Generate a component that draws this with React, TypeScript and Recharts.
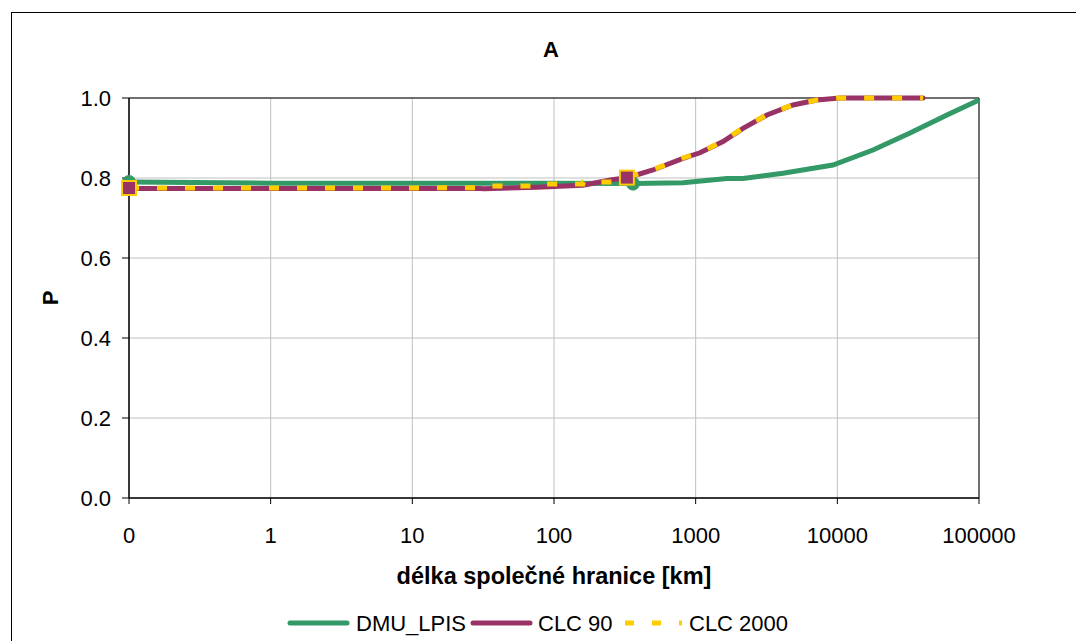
import {
  CartesianGrid,
  Line,
  LineChart,
  ReferenceArea,
  XAxis,
  YAxis,
} from "recharts";

// délka společné hranice [km] (log axis) and P for each series
const dmuLength = [0.1, 1, 10, 100, 361, 814, 1663, 2158, 4131, 9310, 17860, 32580, 59400, 100000];
const dmuP = [0.79, 0.787, 0.787, 0.787, 0.786, 0.788, 0.799, 0.799, 0.812, 0.8325, 0.87, 0.9125, 0.9575, 0.995];

const clc90Length = [0.1, 1, 10, 30, 32, 76, 160, 250, 327, 361, 500, 814, 1072, 1560, 2158, 3185, 4864, 7180, 10440, 40270];
const clc90P = [0.774, 0.774, 0.774, 0.774, 0.773, 0.777, 0.782, 0.795, 0.801, 0.805, 0.82, 0.849, 0.863, 0.891, 0.924, 0.9575, 0.9825, 0.995, 1.0, 1.0];

const clc2000Length = [0.1, 1, 10, 30, 31, 76, 77, 160, 161, 260, 327, 361, 500, 814, 1072, 1560, 2158, 3185, 4864, 7180, 10440, 40270];
const clc2000P = [0.775, 0.775, 0.775, 0.776, 0.78, 0.78, 0.785, 0.785, 0.79, 0.79, 0.801, 0.806, 0.821, 0.85, 0.864, 0.892, 0.925, 0.958, 0.983, 0.995, 1.0, 1.0];

// points that carry a marker
const dmuMarkers = [0.1, 361];
const clcMarkers = [0.1, 327];

const xTicks = [0.1, 1, 10, 100, 1000, 10000, 100000];
const yTicks = [0, 0.2, 0.4, 0.6, 0.8, 1.0];

const toRows = (xs: number[], ys: number[]) => xs.map((x, i) => ({ x, p: ys[i] }));

const dmuData = toRows(dmuLength, dmuP);
const clc90Data = toRows(clc90Length, clc90P);
const clc2000Data = toRows(clc2000Length, clc2000P);

const colors = {
  green: "#339966",
  purple: "#993366",
  yellow: "#FFCC00",
  grid: "#c0c0c0",
  ink: "#000000",
};

const font = "'Liberation Sans', Arial, sans-serif";

const CircleDot = (props: any) => {
  const { cx, cy, payload, index } = props;
  if (!dmuMarkers.includes(payload.x)) return <g key={`c${index}`} />;
  return <circle key={`c${index}`} cx={cx} cy={cy} r={6.5} fill={colors.green} stroke={colors.green} />;
};

const SquareDot = (props: any) => {
  const { cx, cy, payload, index } = props;
  if (!clcMarkers.includes(payload.x)) return <g key={`s${index}`} />;
  return (
    <rect
      key={`s${index}`}
      x={cx - 7}
      y={cy - 7}
      width={14}
      height={14}
      fill={colors.purple}
      stroke={colors.yellow}
      strokeWidth={2}
    />
  );
};

const legendItems = [
  { name: "DMU_LPIS", color: colors.green, dash: undefined, lineX: 290, textX: 356 },
  { name: "CLC 90", color: colors.purple, dash: undefined, lineX: 473, textX: 538 },
  { name: "CLC 2000", color: colors.yellow, dash: "9 18", lineX: 625, textX: 689 },
];

export default function App() {
  return (
    <div
      style={{
        position: "absolute",
        left: 0,
        top: 0,
        width: 1076,
        height: 641,
        overflow: "hidden",
        background: "#fff",
        fontFamily: font,
      }}
    >
      <div
        style={{
          position: "absolute",
          left: 11,
          top: 12,
          width: 1200,
          height: 800,
          borderLeft: "1px solid #000",
          borderTop: "1px solid #000",
        }}
      />
      <div
        style={{
          position: "absolute",
          left: 551,
          top: 39,
          transform: "translateX(-50%)",
          fontSize: 22,
          lineHeight: "22px",
          fontWeight: "bold",
        }}
      >
        A
      </div>
      <div
        style={{
          position: "absolute",
          left: 51,
          top: 298,
          transform: "translate(-50%, -50%) rotate(-90deg)",
          fontSize: 22,
          lineHeight: "22px",
          fontWeight: "bold",
        }}
      >
        P
      </div>

      <div style={{ position: "absolute", left: 0, top: 0 }}>
        <LineChart
          width={1076}
          height={641}
          margin={{ top: 98, right: 97, bottom: 0, left: 0 }}
        >
          <CartesianGrid stroke={colors.grid} strokeWidth={1} />
          <XAxis
            type="number"
            dataKey="x"
            scale="log"
            domain={[0.1, 100000]}
            ticks={xTicks}
            tickFormatter={(v) => (Number(v) < 1 ? "0" : String(v))}
            height={143}
            stroke={colors.ink}
            tickSize={6}
            tickMargin={23}
            tick={{ fill: colors.ink, fontSize: 22, fontFamily: font }}
            label={{
              value: "délka společné hranice [km]",
              position: "insideBottom",
              offset: 57,
              fill: colors.ink,
              fontSize: 23.5,
              fontWeight: "bold",
              fontFamily: font,
            }}
          />
          <YAxis
            type="number"
            domain={[0, 1]}
            ticks={yTicks}
            tickFormatter={(v) => Number(v).toFixed(1)}
            width={129}
            stroke={colors.ink}
            tickSize={7}
            tickMargin={11}
            tick={{ fill: colors.ink, fontSize: 22, fontFamily: font }}
          />
          <ReferenceArea
            x1={0.1}
            x2={100000}
            y1={0}
            y2={1}
            fill="none"
            fillOpacity={0}
            stroke={colors.ink}
            strokeWidth={1}
          />
          <Line
            data={dmuData}
            dataKey="p"
            name="DMU_LPIS"
            type="linear"
            stroke={colors.green}
            strokeWidth={5}
            dot={CircleDot}
            activeDot={false}
            isAnimationActive={false}
          />
          <Line
            data={clc90Data}
            dataKey="p"
            name="CLC 90"
            type="linear"
            stroke={colors.purple}
            strokeWidth={5}
            strokeLinecap="round"
            dot={false}
            activeDot={false}
            isAnimationActive={false}
          />
          <Line
            data={clc2000Data}
            dataKey="p"
            name="CLC 2000"
            type="linear"
            stroke={colors.yellow}
            strokeWidth={5}
            strokeDasharray="10 18"
            dot={SquareDot}
            activeDot={false}
            isAnimationActive={false}
          />
        </LineChart>
      </div>

      {legendItems.map((item) => (
        <div key={item.name}>
          <svg
            style={{ position: "absolute", left: item.lineX - 3, top: 617 }}
            width={66}
            height={12}
          >
            <line
              x1={3}
              y1={6}
              x2={60}
              y2={6}
              stroke={item.color}
              strokeWidth={5}
              strokeLinecap={item.dash ? "butt" : "round"}
              strokeDasharray={item.dash}
            />
          </svg>
          <div
            style={{
              position: "absolute",
              left: item.textX,
              top: 613,
              fontSize: 22,
              lineHeight: "22px",
              whiteSpace: "nowrap",
            }}
          >
            {item.name}
          </div>
        </div>
      ))}
    </div>
  );
}
